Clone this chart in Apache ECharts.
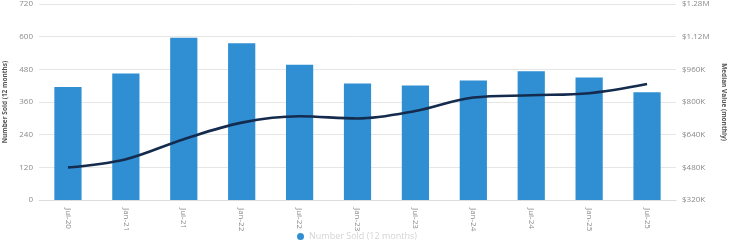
<!DOCTYPE html>
<html><head><meta charset="utf-8">
<script src="https://cdn.jsdelivr.net/npm/echarts@6/dist/echarts.min.js"></script>
<style>html,body{margin:0;padding:0;background:#fff}#c{width:729px;height:243px}</style>
</head><body><div id="c"></div>
<script>
var categories = ['Jul-20','Jan-21','Jul-21','Jan-22','Jul-22','Jan-23','Jul-23','Jan-24','Jul-24','Jan-25','Jul-25'];
var numberSold = [415,465,596,576,497,428,421,439,473,450,396];
var medianValue = [479000,520000,618000,699000,730000,719000,756000,822000,833000,843000,888000];
var leftTicks = {min:0, max:720, interval:120};
var rightTicks = {min:320000, max:1280000, interval:160000};

function money(v){
  if (v >= 1000000) return '$' + (v/1000000).toFixed(2) + 'M';
  return '$' + Math.round(v/1000) + 'K';
}
var chart = echarts.init(document.getElementById('c'));
chart.setOption({
  animation:false,
  textStyle:{fontFamily:'Open Sans'},
  grid:{left:39, right:53, top:4, bottom:43, containLabel:false, outerBoundsMode:'none'},
  legend:{
    bottom:-3, left:292, itemWidth:7, itemHeight:7, icon:'circle',
    textStyle:{color:'#d4d4d4', fontSize:9},
    data:[{name:'Number Sold (12 months)', itemStyle:{color:'#2f8fd2'}}]
  },
  xAxis:{
    type:'category', data:categories,
    axisLine:{lineStyle:{color:'#dcdcdc'}}, axisTick:{show:false},
    axisLabel:{rotate:-90, color:'#8a8a8a', fontSize:8, margin:8}
  },
  yAxis:[{
    type:'value', min:leftTicks.min, max:leftTicks.max, interval:leftTicks.interval,
    name:'Number Sold (12 months)', nameLocation:'middle', nameGap:27,
    nameTextStyle:{color:'#555', fontSize:6.5, fontWeight:'bold'},
    axisLabel:{color:'#8a8a8a', fontSize:8, margin:6},
    splitLine:{lineStyle:{color:'#e6e6e6'}}, axisLine:{show:false}, axisTick:{show:false}
  },{
    type:'value', min:rightTicks.min, max:rightTicks.max, interval:rightTicks.interval,
    name:'Median Value (monthly)', nameLocation:'middle', nameGap:39, nameRotate:-90,
    nameTextStyle:{color:'#555', fontSize:6.5, fontWeight:'bold'},
    axisLabel:{color:'#8a8a8a', fontSize:8, margin:6, formatter:money},
    splitLine:{show:false}, axisLine:{show:false}, axisTick:{show:false}
  }],
  series:[{
    name:'Number Sold (12 months)', type:'bar', data:numberSold, barWidth:'47%',
    itemStyle:{color:'#2f8fd2'}
  },{
    name:'Median Value (monthly)', type:'line', yAxisIndex:1, data:medianValue,
    smooth:0.35, symbol:'none', lineStyle:{color:'#152b4e', width:2.6}, itemStyle:{color:'#152b4e'}
  }]
});
</script></body></html>
